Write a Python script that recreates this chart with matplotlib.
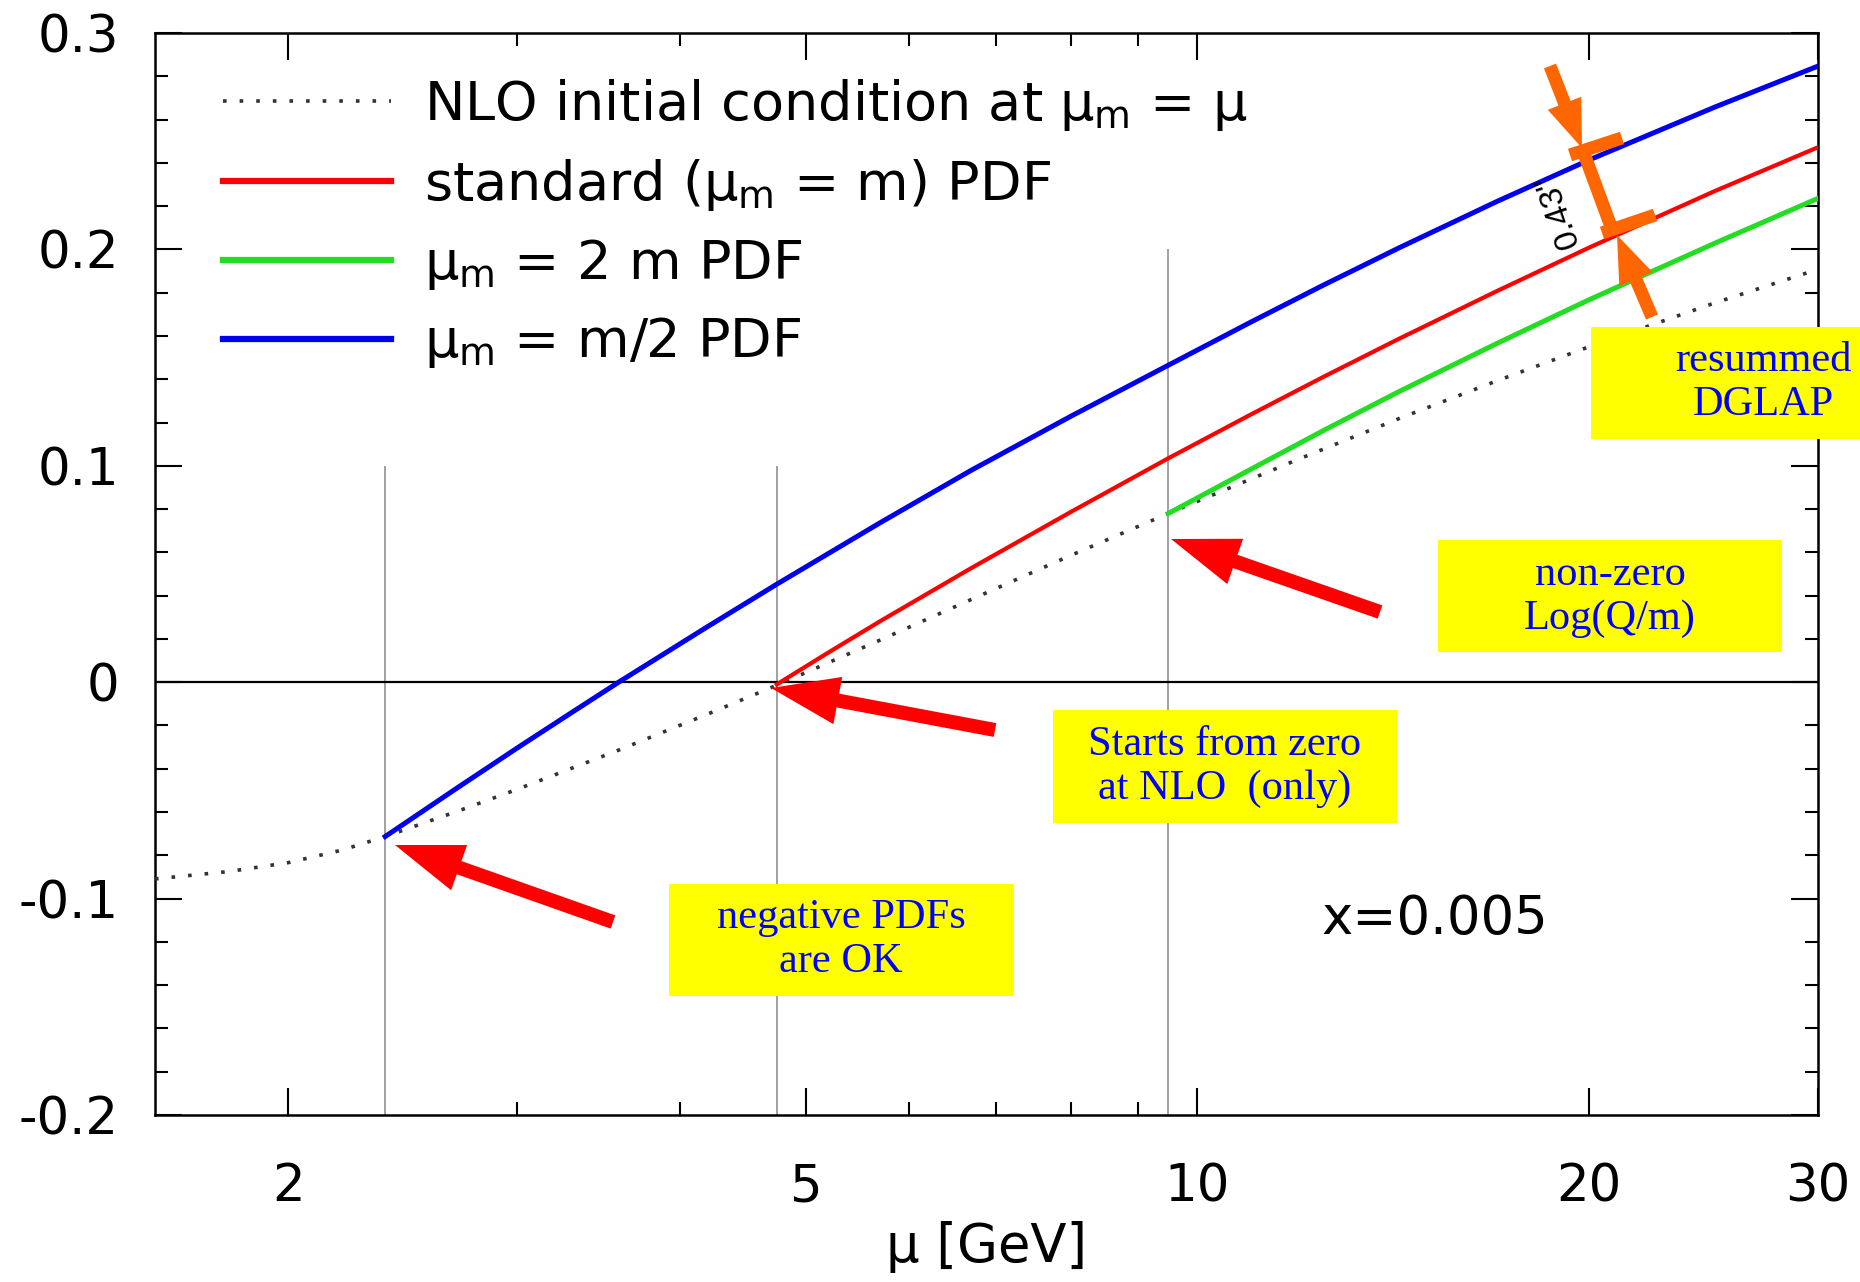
import matplotlib
matplotlib.use("Agg")
import matplotlib.pyplot as plt
from matplotlib.patches import FancyArrow, Rectangle

# ---------------- data ----------------
m_quark = 4.75  # GeV

mu_nlo = [1.58, 1.8, 2.0, 2.2, 2.375, 2.7, 3.0, 3.6, 4.2, 4.75, 5.7, 6.7,
          8.0, 9.5, 12.0, 14.3, 17.0, 20.0, 25.0, 30.0]
pdf_nlo = [-0.0909, -0.0875, -0.0834, -0.0776, -0.0713, -0.0596, -0.0495,
           -0.0311, -0.0148, -0.0014, 0.0194, 0.0382, 0.0587, 0.0780,
           0.1034, 0.1219, 0.1393, 0.1550, 0.1753, 0.1908]

mu_std = [4.75, 5.2, 5.7, 6.7, 8.0, 9.5, 11.0, 12.5, 14.3, 17.0, 20.0,
          25.0, 30.0]
pdf_std = [-0.0010, 0.0136, 0.0281, 0.0527, 0.0788, 0.1035, 0.1238, 0.1411,
           0.1588, 0.1808, 0.2008, 0.2270, 0.2472]

mu_2m = [9.5, 11.0, 12.5, 14.3, 17.0, 20.0, 25.0, 30.0]
pdf_2m = [0.0780, 0.0985, 0.1163, 0.1344, 0.1566, 0.1767, 0.2029, 0.2236]

mu_half = [2.375, 2.7, 3.0, 3.3, 3.59, 4.2, 4.75, 5.7, 6.7, 8.0, 9.5, 11.0,
           12.5, 14.3, 17.0, 20.0, 25.0, 30.0]
pdf_half = [-0.0713, -0.0487, -0.0304, -0.0142, 0.0000, 0.0256, 0.0453,
            0.0736, 0.0979, 0.1230, 0.1465, 0.1665, 0.1835, 0.2008, 0.2222,
            0.2413, 0.2658, 0.2847]

vline_mu = [2.375, 4.75, 9.5]
vline_top = [0.1, 0.1, 0.2]

labels = [r"NLO initial condition at $\mu_m$ = $\mu$",
          r"standard ($\mu_m$ = m) PDF",
          r"$\mu_m$ = 2 m PDF",
          r"$\mu_m$ = m/2 PDF"]

xticks_major = [2, 5, 10, 20, 30]
xticks_minor = [3, 4, 6, 7, 8, 9]
yticks_major = [-0.2, -0.1, 0.0, 0.1, 0.2, 0.3]
yticklabels = ["-0.2", "-0.1", "0", "0.1", "0.2", "0.3"]

# ---------------- style ----------------
plt.rcParams["font.family"] = ["DejaVu Sans"]
plt.rcParams["mathtext.fontset"] = "custom"
plt.rcParams["mathtext.rm"] = "DejaVu Sans"
plt.rcParams["mathtext.it"] = "DejaVu Sans"
plt.rcParams["mathtext.bf"] = "DejaVu Sans:bold"
plt.rcParams["mathtext.sf"] = "DejaVu Sans"
plt.rcParams["axes.unicode_minus"] = False

W, H = 1860, 1282
fig = plt.figure(figsize=(W / 100, H / 100), dpi=100)
ax_l, ax_r, ax_t, ax_b = 155, 1818, 33, 1115
ax = fig.add_axes([ax_l / W, 1 - ax_b / H, (ax_r - ax_l) / W, (ax_b - ax_t) / H])

ax.set_xscale("log")
ax.set_xlim(1.58, 30)
ax.set_ylim(-0.2, 0.3)

ax.vlines(vline_mu, -0.2, vline_top, colors="#9a9a9a", lw=1.3, zorder=1)
ax.axhline(0.0, color="black", lw=1.6, zorder=1)

l_nlo, = ax.plot(mu_nlo, pdf_nlo, color="#333333", lw=2.6,
                 linestyle=(0, (1.0, 3.6)), zorder=3)
l_std, = ax.plot(mu_std, pdf_std, color="#ff0000", lw=3.0, zorder=4)
l_2m, = ax.plot(mu_2m, pdf_2m, color="#22dd22", lw=3.6, zorder=4)
l_half, = ax.plot(mu_half, pdf_half, color="#0000ee", lw=3.6, zorder=4)

ax.set_xticks(xticks_major)
ax.set_xticklabels([str(v) for v in xticks_major])
ax.set_xticks(xticks_minor, minor=True)
ax.set_xticklabels([], minor=True)
ax.set_yticks(yticks_major)
ax.set_yticklabels(yticklabels)
ax.set_yticks([round(-0.2 + 0.02 * i, 2) for i in range(26)], minor=True)

ax.tick_params(which="both", direction="in", top=True, right=True,
               width=1.5, colors="black")
ax.tick_params(which="major", length=19.5)
ax.tick_params(which="minor", length=9.5)
ax.tick_params(axis="x", which="major", labelsize=37, pad=34)
ax.tick_params(axis="y", which="major", labelsize=37, pad=26)
for s in ax.spines.values():
    s.set_linewidth(1.8)

ax.set_xlabel("μ [GeV]", fontsize=38)
ax.xaxis.set_label_coords(0.5, -0.098)
ax.xaxis.label.set_verticalalignment("top")

leg = ax.legend([l_nlo, l_std, l_2m, l_half], labels, loc="upper left",
                bbox_to_anchor=((223 - ax_l) / (ax_r - ax_l),
                                1 - (77 - ax_t) / (ax_b - ax_t)),
                frameon=False, fontsize=39, handlelength=3.1,
                handletextpad=0.62, labelspacing=0.44, borderpad=0,
                borderaxespad=0)
for h in leg.get_lines()[1:]:
    h.set_linewidth(4.5)

# ---------------- annotation overlay (figure pixel coordinates) ----------------
ov = fig.add_axes([0, 0, 1, 1], zorder=5)
ov.set_xlim(0, W)
ov.set_ylim(H, 0)
ov.axis("off")
ov.patch.set_alpha(0)

yellow = "#ffff00"
boxes = [
    ((669, 884, 345, 112), (841, 940), "negative PDFs\nare OK"),
    ((1053, 710, 344, 113), (1225, 767), "Starts from zero\nat NLO  (only)"),
    ((1438, 540, 344, 112), (1610, 597), "non-zero\nLog(Q/m)"),
    ((1591, 327, 300, 112), (1763, 383), "resummed\nDGLAP"),
]
for (x0, y0, w, h), (tx, ty), txt in boxes:
    ov.add_patch(Rectangle((x0, y0), w, h, facecolor=yellow, edgecolor="none"))
    ov.text(tx, ty, txt, ha="center", va="center", fontsize=30.5,
            family="Liberation Serif", color="#0000ff", linespacing=1.2)

red_arrows = [((613, 922), (395, 845)),
              ((995, 730), (771, 688)),
              ((1380, 612), (1171, 539))]
for (x0, y0), (x1, y1) in red_arrows:
    ov.add_patch(FancyArrow(x0, y0, x1 - x0, y1 - y0, width=14, head_width=48,
                            head_length=68, length_includes_head=True,
                            color="#ff0000", lw=0))

orange = "#ff6600"
ov.add_patch(FancyArrow(1550, 66, 32, 82, width=13, head_width=36,
                        head_length=48, length_includes_head=True,
                        color=orange, lw=0))
ov.add_patch(FancyArrow(1652, 317, -35, -82, width=13, head_width=36,
                        head_length=48, length_includes_head=True,
                        color=orange, lw=0))
for (x0, y0), (x1, y1) in [((1570, 155), (1622, 138)),
                           ((1582, 148), (1613, 232)),
                           ((1602, 233), (1655, 215))]:
    ov.plot([x0, x1], [y0, y1], color=orange, lw=9.4, solid_capstyle="butt")

ov.text(1558, 210, '0.43"', rotation=109, ha="center", va="center",
        fontsize=24, family="Liberation Sans", color="black",
        rotation_mode="anchor")

ov.text(1435, 919, "x=0.005", ha="center", va="center", fontsize=38,
        color="black")

fig.savefig("out.png", dpi=100, facecolor="white")
